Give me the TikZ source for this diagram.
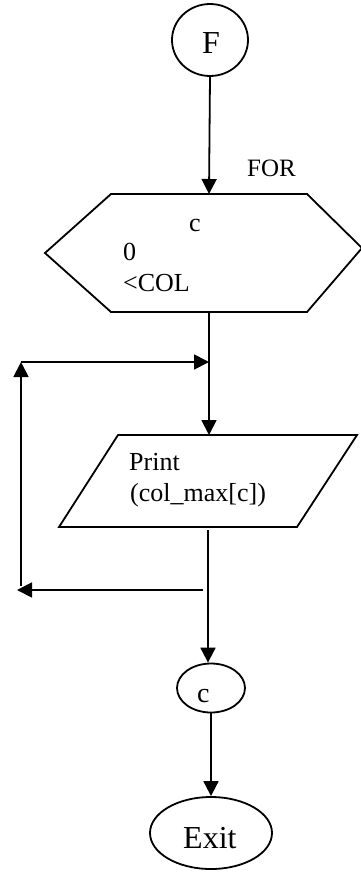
\documentclass[tikz,border=0pt]{standalone}
\usepackage{fontspec}
\setmainfont{Liberation Serif}
\usetikzlibrary{arrows.meta,shapes.geometric}
\begin{document}
\begin{tikzpicture}[x=1pt,y=-1pt,
  line/.style={line width=1.8pt},
  flow/.style={line, -{Triangle[length=15pt,width=15pt]}},
  term/.style={ellipse, draw, line width=1.8pt, inner sep=0pt},
  lbl/.style={anchor=base west, inner sep=0pt, font=\fontsize{26}{30}\selectfont},
  biglbl/.style={lbl, font=\fontsize{32}{36}\selectfont},
]
\useasboundingbox (0,0) rectangle (361,873);

% terminals and connector
\node[term, minimum width=76pt, minimum height=72pt] (start) at (210,40) {};
\node[biglbl] (startText) at (202,53) {F};

\node[term, minimum width=68pt, minimum height=49pt] (cnode) at (211,688) {};
\node[lbl, font=\fontsize{28}{32}\selectfont] (cText) at (197,702) {c};

\node[term, minimum width=122pt, minimum height=72pt] (exit) at (211,833) {};
\node[biglbl] (exitText) at (183,848) {Exit};

% FOR loop hexagon
\draw[line] (45,253) -- (111,194) -- (307,194) -- (362,248) -- (307,312) -- (111,312) -- cycle;
\coordinate (forTop) at (209,194);
\coordinate (forBot) at (209,312);
\node[lbl, font=\fontsize{25}{30}\selectfont] (forText) at (247,176) {FOR};
\node[lbl] (forVar) at (189,231) {c};
\node[lbl] (forInit) at (123,260) {0};
\node[lbl] (forCond) at (123,291) {<COL};

% output parallelogram
\draw[line] (118,435) -- (357,435) -- (297,527) -- (59,527) -- cycle;
\coordinate (printTop) at (209,435);
\coordinate (printBot) at (208,530);
\node[lbl] (printText) at (129,470) {Print};
\node[lbl] (printArg) at (130,501) {(col\_max[c])};

% loop-back path
\coordinate (join) at (209,362);
\coordinate (loopTL) at (21,362);
\coordinate (loopBL) at (21,586);
\coordinate (retR) at (203,590);
\coordinate (retL) at (17,590);

% connectors
\draw[flow] (start.south) -- (forTop);
\draw[line] (forBot) -- (join);
\draw[flow] (join) -- (printTop);
\draw[flow] (printBot) -- (printBot |- cnode.north);
\draw[flow] (retR) -- (retL);
\draw[flow] (loopBL) -- (loopTL);
\draw[flow] (loopTL) -- (join);
\draw[flow] (cnode.south) -- (exit.north);
\end{tikzpicture}
\end{document}
